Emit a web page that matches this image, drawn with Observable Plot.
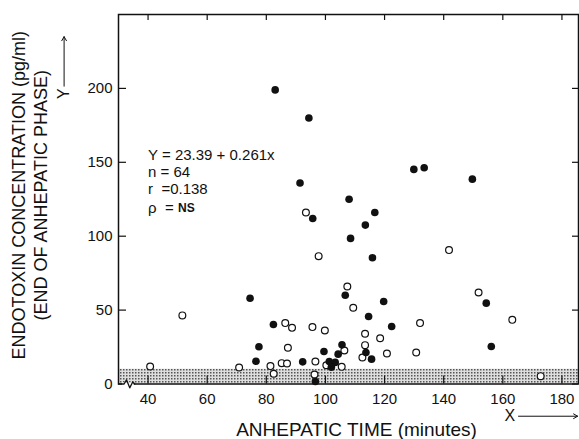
<!DOCTYPE html>
<html><head><meta charset="utf-8">
<script src="https://cdn.jsdelivr.net/npm/d3@7"></script>
<script src="https://cdn.jsdelivr.net/npm/@observablehq/plot@0.6"></script>
<style>body{margin:0;background:#fff}</style>
</head><body><div id="chart"></div>
<script>
// Filled circles
const filledX = [83, 94.4, 91.4, 108, 116.7, 95.7, 113.5, 108.5, 115.9, 129.9, 133.4, 149.7, 106.7, 74.5, 82.4, 119.7, 154.4, 114.6, 122.4, 77.5, 99.5, 105.6, 104.3, 76.5, 92.3, 101.3, 103.3, 102, 96.6, 156.1, 113.7, 115.6];
const filledY = [199, 180, 136, 125, 116, 112, 107.5, 98.5, 85.4, 145.2, 146.3, 138.6, 60, 58, 40.3, 55.8, 54.7, 45.7, 38.9, 25.2, 22, 26.5, 20.2, 15.4, 15, 15.2, 14.6, 11.4, 1.7, 25.4, 21.3, 16.8];
// Open circles
const openX = [93.4, 97.7, 107.4, 51.6, 86.4, 88.7, 95.6, 99.8, 87.3, 106.4, 96.6, 100.3, 105.5, 40.7, 70.8, 81.4, 85.2, 87, 82.5, 96.3, 141.8, 109.4, 151.8, 132, 163.2, 113.4, 118.5, 113.4, 112.5, 120.8, 130.7, 172.8];
const openY = [116, 86.5, 66, 46.4, 41.2, 38, 38.5, 36.2, 24.5, 22.7, 15.2, 12.7, 11.6, 11.8, 11.2, 12.1, 14.1, 13.9, 6.9, 6.4, 90.6, 51.6, 61.9, 41.2, 43.4, 34, 31, 26.3, 17.9, 20.6, 21.3, 5.3];

const xTicks = [40, 60, 80, 100, 120, 140, 160, 180];
const yTicks = [0, 50, 100, 150, 200];
const xDomain = [30, 185.6];
const yDomain = [0, 250];
const band = [0, 10];

const xTitle = "ANHEPATIC TIME (minutes)";
const yTitle1 = "ENDOTOXIN CONCENTRATION (pg/ml)";
const yTitle2 = "(END OF ANHEPATIC PHASE)";
const statsLines = ["Y = 23.39 + 0.261x", "n = 64", "r  =0.138", "ρ  ="];
const statsY = [154.6, 143.1, 131.6, 119.1];
const statsX = 40;
const nsText = "NS";

// axis-direction arrows and break mark (data units)
const xArrow = {x1: 165.3, x2: 185.3, y: -21.8};
const yArrow = {x: 11.6, y1: 201.5, y2: 235};
const xLetter = {t: "X", x: 162.4, y: -21.8};
const yLetter = {t: "Y", x: 11.6, y: 196.5};
const breakX = [31.0, 31.9, 32.7, 33.8, 34.8, 35.5];
const breakY = [0, 0, 2.8, -2.6, 1.4, 0];

const filled = filledX.map((x, i) => ({x, y: filledY[i]}));
const open = openX.map((x, i) => ({x, y: openY[i]}));
const stats = statsLines.map((t, i) => ({t, y: statsY[i]}));
const breakPts = breakX.map((x, i) => ({x, y: breakY[i]}));

const plotW = 579 - 118 - 1, plotH = 439 - 14 - 55.5;

const chart = Plot.plot({
  width: 579, height: 439,
  marginLeft: 118, marginRight: 1, marginTop: 14, marginBottom: 55.5,
  x: {domain: xDomain},
  y: {domain: yDomain},
  style: {fontFamily: "'Liberation Sans', Arial, sans-serif", fontSize: "15px", color: "#111", background: "white"},
  marks: [
    Plot.rect([band], {x1: () => xDomain[0], x2: () => xDomain[1], y1: d => d[0], y2: d => d[1], fill: "url(#stipple)"}),
    Plot.frame({stroke: "#111", strokeWidth: 1.5}),
    Plot.tickY(yTicks, {y: d => d, insetRight: plotW - 8, stroke: "#111", strokeWidth: 1.2}),
    Plot.tickY(yTicks, {y: d => d, insetLeft: plotW - 6, stroke: "#111", strokeWidth: 1.2}),
    Plot.tickX(xTicks, {x: d => d, insetTop: plotH - 8, stroke: "#111", strokeWidth: 1.2}),
    Plot.tickX(xTicks, {x: d => d, insetBottom: plotH - 6, stroke: "#111", strokeWidth: 1.2}),
    Plot.axisY(yTicks, {tickSize: 0, tickPadding: 6, label: null, fontSize: 15}),
    Plot.axisX(xTicks, {tickSize: 0, tickPadding: 9, label: null, fontSize: 15}),
    Plot.ruleY([0], {x1: 31.3, x2: 35.3, stroke: "white", strokeWidth: 3}),
    Plot.line(breakPts, {x: "x", y: "y", stroke: "#111", strokeWidth: 1.3}),
    Plot.dot(open, {x: "x", y: "y", r: 3.4, fill: "white", stroke: "#111", strokeWidth: 1.2}),
    Plot.dot(filled, {x: "x", y: "y", r: 3.8, fill: "#111", stroke: "none"}),
    Plot.text(stats, {x: statsX, y: "y", text: "t", textAnchor: "start", fontSize: 15}),
    Plot.text([nsText], {x: statsX, y: statsY[3], text: d => d, dx: 30, textAnchor: "start", fontSize: 12, fontWeight: "bold"}),
    Plot.text([xTitle], {frameAnchor: "bottom", text: d => d, textAnchor: "middle", lineAnchor: "middle", dy: 45.5, dx: 8, fontSize: 19}),
    Plot.text([yTitle1], {frameAnchor: "left", text: d => d, textAnchor: "middle", lineAnchor: "middle", rotate: -90, dx: -99, dy: -4, fontSize: 18}),
    Plot.text([yTitle2], {frameAnchor: "left", text: d => d, textAnchor: "middle", lineAnchor: "middle", rotate: -90, dx: -77, dy: -4, fontSize: 18}),
    Plot.arrow([xArrow], {x1: "x1", x2: "x2", y1: "y", y2: "y", stroke: "#111", strokeWidth: 1, headLength: 7}),
    Plot.arrow([yArrow], {x1: "x", x2: "x", y1: "y1", y2: "y2", stroke: "#111", strokeWidth: 1, headLength: 7}),
    Plot.text([xLetter], {x: "x", y: "y", text: "t", fontSize: 16}),
    Plot.text([yLetter], {x: "x", y: "y", text: "t", rotate: -90, fontSize: 16})
  ]
});
chart.insertAdjacentHTML("afterbegin", '<defs><pattern id="stipple" width="3" height="3" patternUnits="userSpaceOnUse"><rect width="3" height="3" fill="#dedede"/><rect width="1.5" height="1.5" fill="#555"/></pattern></defs>');
document.getElementById("chart").appendChild(chart);
</script>
</body></html>
